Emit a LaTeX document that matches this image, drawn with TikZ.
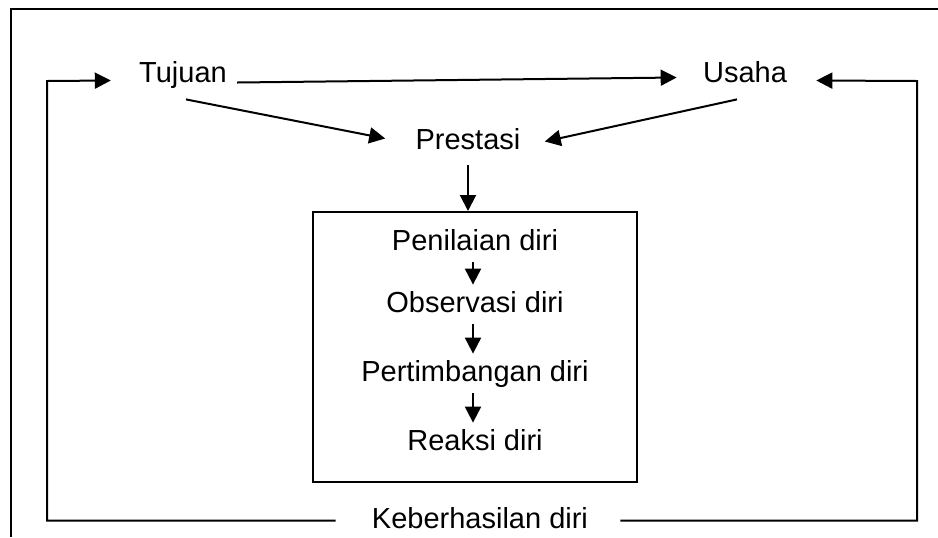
\documentclass[tikz,border=0pt]{standalone}
\usepackage{fontspec}
\setmainfont{Liberation Sans}
\usetikzlibrary{arrows.meta}
\tikzset{
  lbl/.style={font=\fontsize{14.5}{17}\selectfont, text height=10.5pt, text depth=3pt, inner sep=3pt},
  arr/.style={line width=1pt, -{Triangle[length=8pt,width=8pt]}},
  ln/.style={line width=1pt}
}
\begin{document}
\begin{tikzpicture}[x=0.5pt, y=-0.5pt]
  \useasboundingbox (0,0) rectangle (938,537);
  \draw[ln] (11,537) |- (938,9);
  \node[lbl, anchor=base] (tujuan) at (183,82) {Tujuan};
  \node[lbl, anchor=base] (usaha) at (745,82) {Usaha};
  \node[lbl, anchor=base] (prestasi) at (468,149) {Prestasi};
  \node[draw, ln, minimum width=162pt, minimum height=135pt] (kotak) at (475,347) {};
  \node[lbl, anchor=base] (nilai) at (475,250) {Penilaian diri};
  \node[lbl, anchor=base] (observasi) at (475,312) {Observasi diri};
  \node[lbl, anchor=base] (timbang) at (475,381) {Pertimbangan diri};
  \node[lbl, anchor=base] (reaksi) at (475,450) {Reaksi diri};
  \node[lbl, anchor=base] (hasil) at (480,528) {Keberhasilan diri};
  \coordinate (kiri) at (47,81);
  \coordinate (kanan) at (917,81);
  \draw[arr] ([xshift=2pt,yshift=-4pt]tujuan.east) -- ([xshift=-10pt,yshift=-1.5pt]usaha.west);
  \draw[arr] ([xshift=1.5pt,yshift=-2.5pt]tujuan.south) -- ([xshift=-12pt,yshift=1.5pt]prestasi.west);
  \draw[arr] ([xshift=-4pt,yshift=-2.5pt]usaha.south) -- ([xshift=9pt]prestasi.east);
  \draw[arr] ([yshift=-2pt]prestasi.south) -- (prestasi.south |- kotak.north);
  \draw[arr] ([xshift=-1pt]nilai.south) -- ([xshift=-1pt]observasi.north);
  \draw[arr] ([xshift=-1pt]observasi.south) -- ([xshift=-1pt]timbang.north);
  \draw[arr] ([xshift=-1pt]timbang.south) -- ([xshift=-1pt]reaksi.north);
  \draw[arr] ([xshift=-15pt]hasil.west) -| (kiri) -- ([xshift=-11pt,yshift=-3pt]tujuan.west);
  \draw[arr] ([xshift=13pt]hasil.east) -| (kanan) -- ([xshift=11.5pt,yshift=-3pt]usaha.east);
\end{tikzpicture}
\end{document}
